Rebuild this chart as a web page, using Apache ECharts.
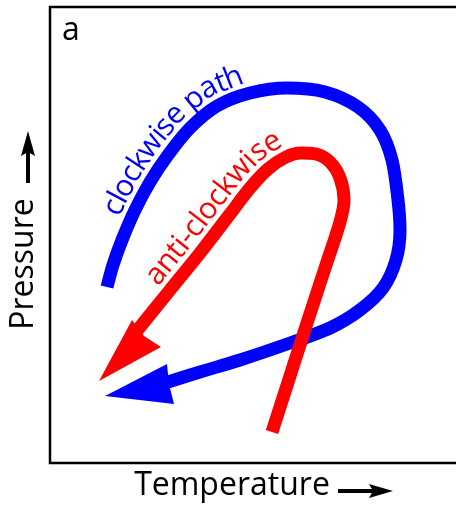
<!DOCTYPE html>
<html><head><meta charset="utf-8">
<script src="https://cdn.jsdelivr.net/npm/echarts@6/dist/echarts.min.js"></script>
<style>html,body{margin:0;padding:0;background:#fff}#c{width:456px;height:515px}</style>
</head><body><div id="c"></div>
<script>
// Schematic P–T paths (arbitrary units: x = temperature, y = pressure)
const clockwiseT = [57, 63, 72, 85, 100, 118, 140, 167, 200, 237, 275, 308, 330, 342, 348, 350, 346, 333, 310, 280, 240, 190, 150, 118];
const clockwiseP = [176, 198, 223, 253, 281, 308, 335, 357, 370, 375, 371, 356, 333, 303, 263, 233, 203, 175, 153, 135, 120, 103, 91, 81];
const antiT = [222, 240, 258, 276, 290, 294, 290, 280, 266, 251, 236, 218, 200, 180, 150, 120, 86];
const antiP = [31, 87, 143, 198, 241, 263, 285, 301, 309, 310, 306, 294, 275, 249, 210, 173, 131];
// arrowheads: tip, barb, notch, barb
const clockwiseHeadT = [55, 117, 119, 124];
const clockwiseHeadP = [67, 99, 79, 59];
const antiHeadT = [49, 82, 94, 111];
const antiHeadP = [82, 143, 127, 116];
const pathLabels = ['clockwise path', 'anti-clockwise'];
const axisLabels = ['Temperature', 'Pressure'];
const panelLabel = 'a';

const FONT = '"Open Sans", "DejaVu Sans", sans-serif';
const chart = echarts.init(document.getElementById('c'), null, {renderer: 'canvas'});
const zip = (a, b) => a.map((v, i) => [v, b[i]]);
const headItem = (t, p) => [t[0], p[0], t[1], p[1], t[2], p[2], t[3], p[3]];
const headRender = color => (params, api) => {
  const pts = [0, 1, 2, 3].map(k => api.coord([api.value(2 * k), api.value(2 * k + 1)]));
  return {type: 'polygon', shape: {points: pts}, style: {fill: color}};
};

chart.setOption({
  animation: false,
  grid: {left: 50, top: 7, width: 420, height: 456, outerBoundsMode: 'none', containLabel: false,
         show: true, borderColor: '#000', borderWidth: 2.5, backgroundColor: '#fff'},
  xAxis: {type: 'value', min: 0, max: 420, show: false},
  yAxis: {type: 'value', min: 0, max: 456, show: false},
  series: [
    {type: 'line', data: zip(clockwiseT, clockwiseP), smooth: 0.3, symbol: 'none',
     lineStyle: {color: '#0000ff', width: 13, cap: 'butt', join: 'round'}},
    {type: 'custom', data: [headItem(clockwiseHeadT, clockwiseHeadP)], renderItem: headRender('#0000ff'),
     encode: {x: [0, 2, 4, 6], y: [1, 3, 5, 7]}},
    {type: 'line', data: zip(antiT, antiP), smooth: 0.3, symbol: 'none',
     lineStyle: {color: '#ff0000', width: 13, cap: 'butt', join: 'round'}},
    {type: 'custom', data: [headItem(antiHeadT, antiHeadP)], renderItem: headRender('#ff0000'),
     encode: {x: [0, 2, 4, 6], y: [1, 3, 5, 7]}}
  ]
});

const ctx = document.createElement('canvas').getContext('2d');
function placeAlong(xs, ys, text, o) {
  const pts = xs.map((x, i) => chart.convertToPixel({gridIndex: 0}, [x, ys[i]]));
  const n = pts.length;
  const off = pts.map((p, i) => {
    const a = pts[Math.max(0, i - 1)], b = pts[Math.min(n - 1, i + 1)];
    let dx = b[0] - a[0], dy = b[1] - a[1];
    const L = Math.hypot(dx, dy) || 1; dx /= L; dy /= L;
    return [p[0] + dy * o.offset, p[1] - dx * o.offset];
  });
  const cum = [0];
  for (let i = 1; i < n; i++) cum.push(cum[i - 1] + Math.hypot(off[i][0] - off[i - 1][0], off[i][1] - off[i - 1][1]));
  const at = s => {
    s = Math.max(0, Math.min(cum[n - 1], s));
    let i = 1; while (i < n - 1 && cum[i] < s) i++;
    const t = (s - cum[i - 1]) / ((cum[i] - cum[i - 1]) || 1);
    return [off[i - 1][0] + t * (off[i][0] - off[i - 1][0]), off[i - 1][1] + t * (off[i][1] - off[i - 1][1])];
  };
  let best = 0, bd = 1e9;
  for (let s = 0; s < cum[n - 1]; s += 0.5) {
    const p = at(s); const d = Math.hypot(p[0] - o.start[0], p[1] - o.start[1]);
    if (d < bd) { bd = d; best = s; }
  }
  const font = o.fontSize + 'px ' + FONT;
  ctx.font = font;
  let s = best; const els = [];
  for (const ch of text) {
    const w = ctx.measureText(ch).width;
    const p0 = at(s), p1 = at(s + w);
    const ang = Math.atan2(p1[1] - p0[1], p1[0] - p0[0]);
    const mid = at(s + w / 2);
    const ux = Math.sin(ang), uy = -Math.cos(ang);
    const h = o.fontSize * o.mid;
    els.push({type: 'text', x: mid[0] + ux * h, y: mid[1] + uy * h, rotation: -ang, z: 10,
      style: {text: ch, font: font, fill: o.color, textAlign: 'center', textVerticalAlign: 'middle'}});
    s += w + (o.spacing || 0);
  }
  return els;
}

const rev = a => a.slice().reverse();
const graphics = []
  .concat(placeAlong(clockwiseT, clockwiseP, pathLabels[0], {offset: 10, start: [112, 214], fontSize: 30, mid: 0.33, spacing: -1.1, color: '#0000ff'}))
  .concat(placeAlong(rev(antiT), rev(antiP), pathLabels[1], {offset: 10, start: [162, 290], fontSize: 30, mid: 0.33, spacing: -0.4, color: '#ff0000'}));

graphics.push(
  {type: 'text', x: 232, y: 486, z: 10, style: {text: axisLabels[0], font: '32px ' + FONT, fill: '#000', textAlign: 'center', textVerticalAlign: 'middle'}},
  {type: 'text', x: 24, y: 264, rotation: Math.PI / 2, z: 10, style: {text: axisLabels[1], font: '32px ' + FONT, fill: '#000', textAlign: 'center', textVerticalAlign: 'middle'}},
  {type: 'text', x: 62, y: 31, z: 10, style: {text: panelLabel, font: '32px ' + FONT, fill: '#000', textAlign: 'left', textVerticalAlign: 'middle'}},
  // axis direction arrows
  {type: 'line', z: 10, shape: {x1: 338, y1: 491, x2: 374, y2: 491}, style: {stroke: '#000', lineWidth: 4}},
  {type: 'polygon', z: 10, shape: {points: [[393, 491], [369, 484], [373, 491], [369, 498]]}, style: {fill: '#000'}},
  {type: 'line', z: 10, shape: {x1: 28, y1: 183, x2: 28, y2: 150}, style: {stroke: '#000', lineWidth: 4}},
  {type: 'polygon', z: 10, shape: {points: [[28, 131], [21, 156], [28, 152], [35, 156]]}, style: {fill: '#000'}}
);
chart.setOption({graphic: graphics});
</script>
</body></html>
